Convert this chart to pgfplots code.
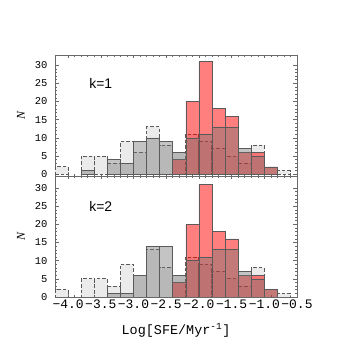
\documentclass[border=0pt]{standalone}
\usepackage{fontspec}
\setmainfont{Liberation Serif}
\newfontfamily\monofont{Liberation Mono}
\newfontfamily\sansfont{Liberation Sans}
\usepackage{pgfplots}
\pgfplotsset{compat=1.18}

\definecolor{framegray}{RGB}{105,105,105}
\definecolor{edgegray}{RGB}{90,90,90}
\definecolor{lightbar}{RGB}{235,235,235}
\definecolor{midbar}{RGB}{112,112,112}

\newcommand\ytfont{\monofont\fontsize{10.5}{10.5}\selectfont}
\newcommand\xtfont{\monofont\fontsize{13}{13}\selectfont}

\pgfplotsset{
  sfepanel/.style={
    scale only axis, width=242bp, height=121bp,
    xmin=-4.2, xmax=-0.5,
    xtick={-4,-3.5,-3,-2.5,-2,-1.5,-1,-0.5}, minor x tick num=4,
    ytick={0,5,10,15,20,25,30}, minor y tick num=4,
    tick align=inside, major tick length=3.5bp, minor tick length=2bp,
    axis line style={framegray, line width=0.7bp},
    tick style={framegray, line width=0.5bp},
    /pgf/number format/assume math mode=true,
    yticklabel style={font=\ytfont, xshift=-4bp},
    xticklabel style={font=\xtfont, yshift=1bp},
    ylabel={N},
    ylabel style={font=\itshape\fontsize{12}{12}\selectfont,
      at={(axis description cs:-0.1405,0.5)}, anchor=center},
  },
  histA/.style={ybar, bar width=0.2, bar shift=0pt, fill=lightbar, draw=edgegray,
    line width=1bp, dash pattern=on 3.5bp off 2bp},
  histC/.style={ybar, bar width=0.2, bar shift=0pt, fill=red, fill opacity=0.5,
    draw=edgegray, line width=0.6bp},
  histB/.style={ybar, bar width=0.2, bar shift=0pt, fill=midbar, fill opacity=0.41,
    draw=edgegray, line width=0.6bp},
}

\begin{document}
\begin{tikzpicture}
\path[use as bounding box] (-55bp,-56bp) rectangle (298bp,297bp);

% k=1
\begin{axis}[sfepanel, at={(0,121bp)}, ymin=-0.5, ymax=32.8, xticklabels={}]
\addplot[histA] coordinates {(-4.1,2) (-3.7,5) (-3.5,5) (-3.3,3) (-3.1,9) (-2.9,6) (-2.7,13) (-2.5,8)
  (-2.3,6) (-2.1,11) (-1.9,9) (-1.7,7) (-1.5,5) (-1.3,3) (-1.1,8) (-0.7,1)};
\addplot[histC] coordinates {(-2.3,4) (-2.1,20) (-1.9,31) (-1.7,18) (-1.5,16) (-1.3,6) (-1.1,6) (-0.9,2)};
\addplot[histB] coordinates {(-3.7,1) (-3.3,4) (-3.1,3) (-2.9,9) (-2.7,10) (-2.5,9) (-2.3,6)
  (-2.1,10) (-1.9,11) (-1.7,13) (-1.5,13) (-1.3,7) (-1.1,5) (-0.9,2)};
\node[font=\sansfont\fontsize{14}{14}\selectfont] at (axis cs:-3.5,25) {k=1};
\end{axis}

% k=2
\begin{axis}[sfepanel, at={(0,0)}, ymin=0, ymax=33.3,
  xticklabels={−4.0,−3.5,−3.0,−2.5,−2.0,−1.5,−1.0,−0.5},
  xlabel={Log[SFE/Myr\textsuperscript{-1}]},
  xlabel style={font=\monofont\fontsize{13.5}{13.5}\selectfont, at={(0.5,0)}, anchor=center, yshift=-33bp}]
\addplot[histA] coordinates {(-4.1,2) (-3.7,5) (-3.5,5) (-3.3,3) (-3.1,9) (-2.9,6) (-2.7,13) (-2.5,8)
  (-2.3,6) (-2.1,11) (-1.9,9) (-1.7,7) (-1.5,5) (-1.3,3) (-1.1,8) (-0.7,1)};
\addplot[histC] coordinates {(-2.3,4) (-2.1,20) (-1.9,31) (-1.7,18) (-1.5,16) (-1.3,6) (-1.1,6) (-0.9,2)};
\addplot[histB] coordinates {(-3.3,1) (-3.1,1) (-2.9,6) (-2.7,14) (-2.5,14) (-2.3,6)
  (-2.1,10) (-1.9,11) (-1.7,13) (-1.5,13) (-1.3,7) (-1.1,5) (-0.9,2)};
\node[font=\sansfont\fontsize{14}{14}\selectfont] at (axis cs:-3.5,25) {k=2};
\end{axis}
\end{tikzpicture}
\end{document}
